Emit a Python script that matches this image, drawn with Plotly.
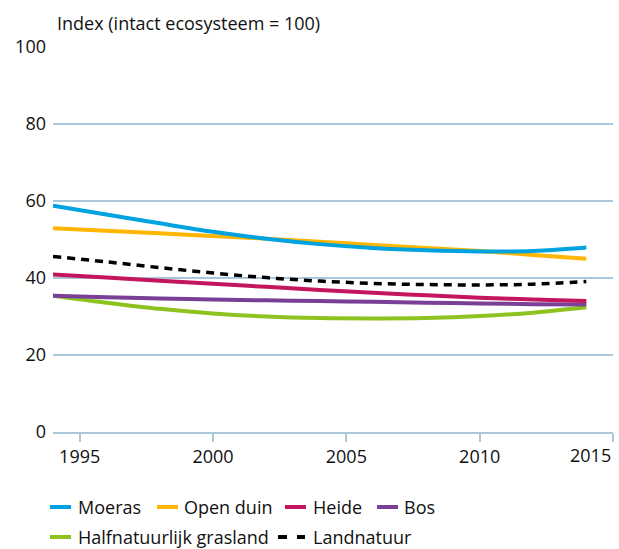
import plotly.graph_objects as go

years = [1994, 1996, 1998, 2000, 2002, 2004, 2006, 2008, 2010, 2012, 2014]
moeras = [58.8, 56.5, 54.2, 52.0, 50.2, 48.8, 47.8, 47.2, 46.9, 47.0, 47.9]
open_duin = [52.9, 52.3, 51.6, 50.9, 50.2, 49.4, 48.6, 47.8, 47.0, 46.0, 45.0]
heide = [40.9, 40.1, 39.3, 38.5, 37.7, 36.9, 36.2, 35.5, 34.9, 34.4, 34.0]
bos = [35.4, 35.0, 34.7, 34.4, 34.2, 34.0, 33.8, 33.6, 33.4, 33.2, 33.1]
grasland = [35.4, 33.6, 32.0, 30.8, 30.0, 29.6, 29.5, 29.6, 30.1, 31.0, 32.4]
landnatuur = [45.6, 44.2, 42.7, 41.3, 40.1, 39.2, 38.6, 38.3, 38.2, 38.4, 39.1]

series_names = ["Moeras", "Open duin", "Heide", "Bos", "Halfnatuurlijk grasland", "Landnatuur"]
series_values = [moeras, open_duin, heide, bos, grasland, landnatuur]
series_colors = ["#00a3e0", "#ffb600", "#c4165e", "#7a3f96", "#8dc21f", "#000000"]
series_dash = ["solid", "solid", "solid", "solid", "solid", "8px,6px"]

x_ticks = [1995, 2000, 2005, 2010, 2015]
x_ticklabels = ["1995", "2000", "2005", "2010", "2015"]
y_ticks = [0, 20, 40, 60, 80, 100]

W, H = 619, 549
ML, MR, MT, MB = 53, 6, 47, 117
FONT = "Open Sans, sans-serif"
FS = 18
TXT = "#111111"
GRID = "#a9c6da"

fig = go.Figure()
order = [4, 3, 2, 5, 1, 0]
for i in order:
    fig.add_trace(go.Scatter(
        x=years, y=series_values[i], name=series_names[i], mode="lines",
        line=dict(color=series_colors[i], width=4 if series_dash[i] == "solid" else 3.5,
                  dash=series_dash[i], shape="spline", smoothing=1.0),
        showlegend=False,
    ))

# last tick label sits flush with the right edge in the reference: draw it as a right-anchored annotation
tick_text = x_ticklabels[:-1] + [""]

fig.update_layout(
    width=W, height=H,
    margin=dict(l=ML, r=MR, t=MT, b=MB, autoexpand=False),
    plot_bgcolor="white", paper_bgcolor="white",
    font=dict(family=FONT, color=TXT, size=FS),
    xaxis=dict(range=[1994, 2015], tickvals=x_ticks, ticktext=tick_text,
               ticklabeloverflow="allow", automargin=False,
               showgrid=False, zeroline=False, showline=True, linecolor=GRID, linewidth=1.5,
               ticks="outside", ticklen=8, tickcolor=GRID, tickwidth=1.5,
               tickfont=dict(size=FS, color=TXT, family=FONT)),
    yaxis=dict(range=[0, 100], tickvals=y_ticks, showgrid=True, gridcolor=GRID, gridwidth=1.5,
               zeroline=False, showline=False, ticks="", ticklabelstandoff=6, automargin=False,
               tickfont=dict(size=FS, color=TXT, family=FONT)),
)

pw = W - ML - MR
ph = H - MT - MB
def px(xp):
    return (xp - ML) / pw
def py(yp):
    return 1 - (yp - MT) / ph

fig.add_annotation(text=x_ticklabels[-1], xref="x", yref="paper",
                   x=x_ticks[-1], y=py(455), xanchor="right", yanchor="middle",
                   showarrow=False, font=dict(size=FS, color=TXT, family=FONT))

fig.add_annotation(text="Index (intact ecosysteem = 100)", xref="paper", yref="paper",
                   x=px(55), y=py(23), xanchor="left", yanchor="middle", showarrow=False,
                   font=dict(size=FS, color=TXT, family=FONT))

# manual legend
legend_sym = [(50, 507), (157, 507), (285, 507), (377, 507), (50, 537), (278, 537)]
legend_txt_x = [76, 182, 311, 402, 76, 311]

for i, (lx, ly) in enumerate(legend_sym):
    if series_dash[i] == "solid":
        segs = [(lx, lx + 21)]
    else:
        segs = [(lx, lx + 9), (lx + 19, lx + 27)]
    for a, b in segs:
        fig.add_shape(type="line", xref="paper", yref="paper",
                      x0=px(a), x1=px(b), y0=py(ly), y1=py(ly),
                      line=dict(color=series_colors[i], width=4))
    fig.add_annotation(text=series_names[i], xref="paper", yref="paper",
                       x=px(legend_txt_x[i]), y=py(ly), xanchor="left", yanchor="middle",
                       showarrow=False, font=dict(size=FS, color=TXT, family=FONT))

fig.write_html("out.html", config={"displayModeBar": False},
               post_script="document.body.style.margin='0px';")
